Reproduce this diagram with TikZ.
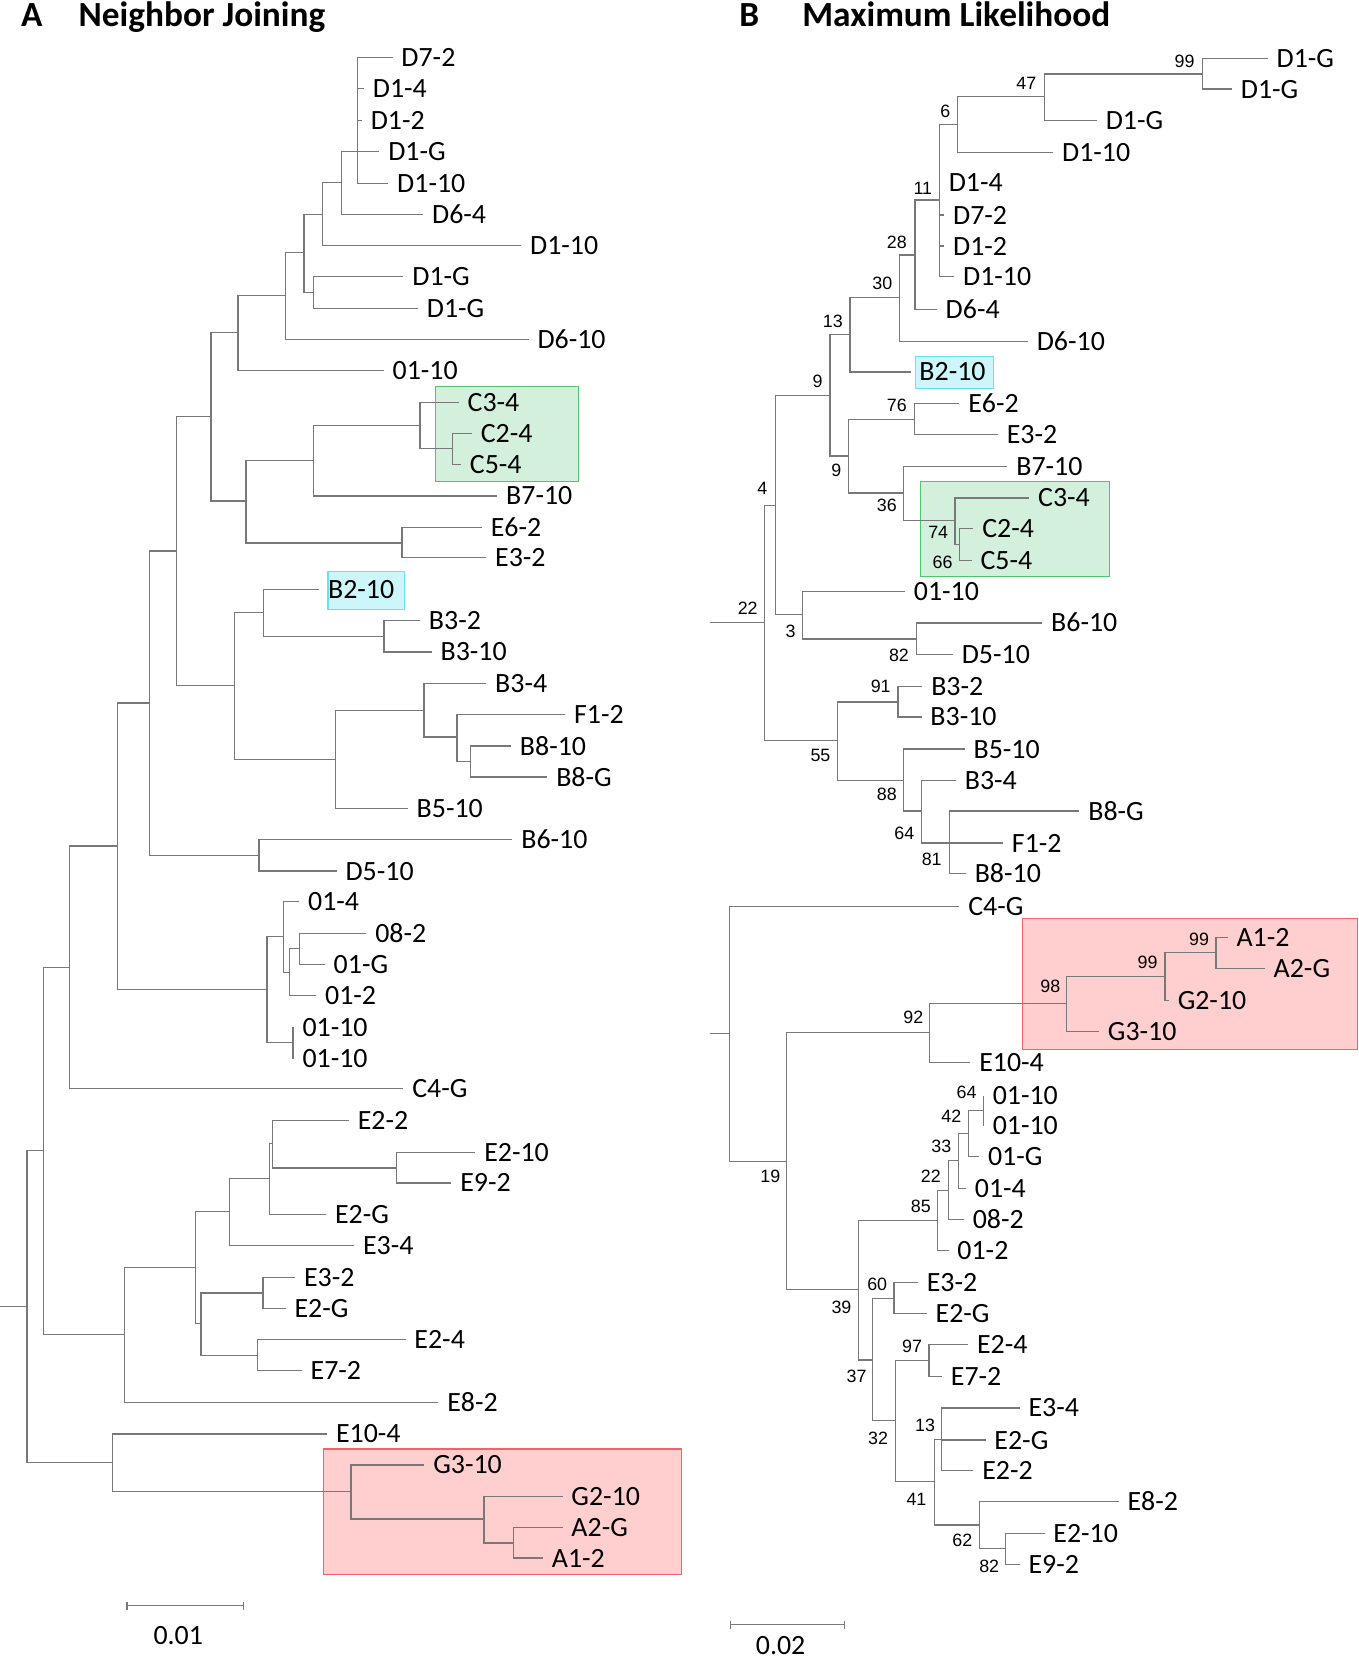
\documentclass[tikz,border=0pt]{standalone}
\usepackage{fontspec}
\setmainfont{Carlito}
\newfontfamily\bsfont{Liberation Sans}
\usetikzlibrary{arrows.meta}
\definecolor{branch}{RGB}{120,120,120}
\definecolor{boxgreen}{RGB}{211,240,221}
\definecolor{linegreen}{RGB}{80,196,110}
\definecolor{boxred}{RGB}{255,207,207}
\definecolor{linered}{RGB}{240,100,100}
\definecolor{boxcyan}{RGB}{204,246,250}
\definecolor{linecyan}{RGB}{100,228,240}
\tikzset{
  br/.style={draw=branch, line width=0.65pt},
  leaf/.style={anchor=west, inner xsep=4.6pt, inner ysep=0pt, text height=9.7pt, text depth=0pt, font=\fontsize{15pt}{15pt}\selectfont},
  bs/.style={anchor=east, inner sep=0pt, text height=6.9pt, text depth=0pt, font=\bsfont\fontsize{9.6pt}{9.6pt}\selectfont},
  ttl/.style={anchor=base west, inner sep=0pt, font=\fontsize{19pt}{19pt}\selectfont\bfseries},
  scl/.style={inner sep=0pt, text height=9.7pt, text depth=0pt, font=\fontsize{15pt}{15pt}\selectfont},
  hl/.style={line width=0.6pt},
}
\begin{document}
\begin{tikzpicture}[x=0.02cm, y=-0.02cm]
\useasboundingbox (0,0) rectangle (1284,1568);

% highlight boxes
\filldraw[fill=boxgreen, draw=linegreen, hl] (412,365.7) rectangle (547,455.2);
\filldraw[fill=boxcyan, draw=linecyan, hl] (310,540.5) rectangle (382.5,576.2);
\filldraw[fill=boxred, draw=linered, hl] (305.9,1369.5) rectangle (643.9,1488.3);
\filldraw[fill=boxcyan, draw=linecyan, hl] (865.6,337.3) rectangle (938.6,367.2);
\filldraw[fill=boxgreen, draw=linegreen, hl] (869.7,455.2) rectangle (1048.6,544.6);
\filldraw[fill=boxred, draw=linered, hl] (966.6,867.7) rectangle (1283,992.2);

\node[ttl] (tA) at (19.5,25.3) {A};
\node[ttl] (tNJ) at (74,25.3) {Neighbor Joining};
\node[ttl] (tB) at (698.5,25) {B};
\node[ttl] (tML) at (758,25) {Maximum Likelihood};

% A: neighbor joining
\coordinate (rA0) at (0,1234.6);
\coordinate (rA) at (25.6,1234.6);
\coordinate (p1) at (338,143.4);
\coordinate (p2) at (323,172.7);
\coordinate (p3) at (305,202.7);
\coordinate (p4) at (287.3,238.6);
\coordinate (p5) at (296,276.5);
\coordinate (p6) at (269.6,279);
\coordinate (p7) at (225,314.6);
\coordinate (p8) at (199.5,394);
\coordinate (p9) at (232.5,473.5);
\coordinate (p10) at (296,435.6);
\coordinate (p11) at (397,401.9);
\coordinate (p11b) at (427.5,424);
\coordinate (p12) at (380,513.2);
\coordinate (p13) at (166.5,520.7);
\coordinate (p14) at (221.8,647.7);
\coordinate (p15) at (249.4,578.7);
\coordinate (p16) at (363,601.4);
\coordinate (p17) at (317.4,717.7);
\coordinate (p18) at (400.7,671.3);
\coordinate (p19) at (432,696.6);
\coordinate (p20) at (444.4,719.6);
\coordinate (p21) at (141.4,664.4);
\coordinate (p22) at (244.8,808.5);
\coordinate (p23) at (110.9,799.6);
\coordinate (p24) at (252.3,935.2);
\coordinate (p25) at (268,884.8);
\coordinate (p26) at (273.3,918.8);
\coordinate (p26b) at (282.8,896.7);
\coordinate (p27) at (277,985);
\coordinate (p28) at (66,914.7);
\coordinate (p29) at (41.2,1087.4);
\coordinate (p30) at (117.5,1261.4);
\coordinate (p31) at (184.7,1197.7);
\coordinate (p32) at (217.2,1144.7);
\coordinate (p33) at (254.7,1114.2);
\coordinate (p34) at (257.6,1081);
\coordinate (p35) at (375.1,1104);
\coordinate (p36) at (190,1250.6);
\coordinate (p37) at (248.6,1222);
\coordinate (p38) at (243.2,1281);
\coordinate (p39) at (106.3,1382.1);
\coordinate (p40) at (331.8,1409.5);
\coordinate (p41) at (457.5,1435.7);
\coordinate (p42) at (485.6,1458.4);

\node[leaf] (lA1) at (371,54.2) {D7-2};
\node[leaf] (lA2) at (344,84) {D1-4};
\node[leaf] (lA3) at (342,114) {D1-2};
\node[leaf] (lA4) at (358.6,143.4) {D1-G};
\node[leaf] (lA5) at (367,173.4) {D1-10};
\node[leaf] (lA6) at (400,202.7) {D6-4};
\node[leaf] (lA7) at (492.6,232.3) {D1-10};
\node[leaf] (lA8) at (381.3,261.6) {D1-G};
\node[leaf] (lA9) at (395,291.6) {D1-G};
\node[leaf] (lA10) at (499.6,321) {D6-10};
\node[leaf] (lA11) at (362.7,350.2) {01-10};
\node[leaf] (lA12) at (433.6,380.5) {C3-4};
\node[leaf] (lA13) at (446,409.8) {C2-4};
\node[leaf] (lA14) at (435.7,438.8) {C5-4};
\node[leaf] (lA15) at (470,468.7) {B7-10};
\node[leaf] (lA16) at (455.5,498.7) {E6-2};
\node[leaf] (lA17) at (459.6,527) {E3-2};
\node[leaf] (lA18) at (301.7,556.9) {B2-10};
\node[leaf] (lA19) at (397,586.6) {B3-2};
\node[leaf] (lA20) at (408,616.2) {B3-10};
\node[leaf] (lA21) at (459.6,645.8) {B3-4};
\node[leaf] (lA22) at (534.2,675.1) {F1-2};
\node[leaf] (lA23) at (483,705.1) {B8-10};
\node[leaf] (lA24) at (517.3,734.4) {B8-G};
\node[leaf] (lA25) at (385.4,764) {B5-10};
\node[leaf] (lA26) at (484.3,793.6) {B6-10};
\node[leaf] (lA27) at (318.2,823.3) {D5-10};
\node[leaf] (lA28) at (282.8,852) {01-4};
\node[leaf] (lA29) at (346.3,882.6) {08-2};
\node[leaf] (lA30) at (307,911.9) {01-G};
\node[leaf] (lA31) at (298.9,941.2) {01-2};
\node[leaf] (lA32) at (277.5,970.8) {01-10};
\node[leaf] (lA33) at (277.5,1000.8) {01-10};
\node[leaf] (lA34) at (381.3,1029.1) {C4-G};
\node[leaf] (lA35) at (329.8,1059.1) {E2-2};
\node[leaf] (lA36) at (449.3,1089) {E2-10};
\node[leaf] (lA37) at (426.6,1118) {E9-2};
\node[leaf] (lA38) at (308.3,1148.2) {E2-G};
\node[leaf] (lA39) at (334.7,1177.2) {E3-4};
\node[leaf] (lA40) at (279,1207.1) {E3-2};
\node[leaf] (lA41) at (270,1237) {E2-G};
\node[leaf] (lA42) at (383.3,1266.1) {E2-4};
\node[leaf] (lA43) at (285.2,1295.4) {E7-2};
\node[leaf] (lA44) at (414.3,1325.3) {E8-2};
\node[leaf] (lA45) at (309.2,1355.3) {E10-4};
\node[leaf] (lA46) at (401.1,1384.6) {G3-10};
\node[leaf] (lA47) at (531.7,1414.3) {G2-10};
\node[leaf] (lA48) at (531.7,1443.6) {A2-G};
\node[leaf] (lA49) at (513.2,1472.6) {A1-2};

\draw[br] (rA0) -- (rA);
\draw[br] (rA) |- (p29) (rA) |- (p39);
\draw[br] (p1) |- (lA1.west) (p1) |- (lA2.west) (p1) |- (lA3.west) (p1) |- (lA4.west) (p1) |- (lA5.west);
\draw[br] (p2) |- (p1) (p2) |- (lA6.west);
\draw[br] (p3) |- (p2) (p3) |- (lA7.west);
\draw[br] (p4) |- (p3) (p4) |- (p5);
\draw[br] (p5) |- (lA8.west) (p5) |- (lA9.west);
\draw[br] (p6) |- (p4) (p6) |- (lA10.west);
\draw[br] (p7) |- (p6) (p7) |- (lA11.west);
\draw[br] (p8) |- (p7) (p8) |- (p9);
\draw[br] (p9) |- (p10) (p9) |- (p12);
\draw[br] (p10) |- (p11) (p10) |- (lA15.west);
\draw[br] (p11) |- (lA12.west) (p11) |- (p11b);
\draw[br] (p11b) |- (lA13.west) (p11b) |- (lA14.west);
\draw[br] (p12) |- (lA16.west) (p12) |- (lA17.west);
\draw[br] (p13) |- (p8) (p13) |- (p14);
\draw[br] (p14) |- (p15) (p14) |- (p17);
\draw[br] (p15) |- (lA18.west) (p15) |- (p16);
\draw[br] (p16) |- (lA19.west) (p16) |- (lA20.west);
\draw[br] (p17) |- (p18) (p17) |- (lA25.west);
\draw[br] (p18) |- (lA21.west) (p18) |- (p19);
\draw[br] (p19) |- (lA22.west) (p19) |- (p20);
\draw[br] (p20) |- (lA23.west) (p20) |- (lA24.west);
\draw[br] (p21) |- (p13) (p21) |- (p22);
\draw[br] (p22) |- (lA26.west) (p22) |- (lA27.west);
\draw[br] (p23) |- (p21) (p23) |- (p24);
\draw[br] (p24) |- (p25) (p24) |- (p27);
\draw[br] (p25) |- (lA28.west) (p25) |- (p26);
\draw[br] (p26) |- (p26b) (p26) |- (lA31.west);
\draw[br] (p26b) |- (lA29.west) (p26b) |- (lA30.west);
\draw[br] (p27) |- (lA32.west) (p27) |- (lA33.west);
\draw[br] (p28) |- (p23) (p28) |- (lA34.west);
\draw[br] (p29) |- (p28) (p29) |- (p30);
\draw[br] (p30) |- (p31) (p30) |- (lA44.west);
\draw[br] (p31) |- (p32) (p31) |- (p36);
\draw[br] (p32) |- (p33) (p32) |- (lA39.west);
\draw[br] (p33) |- (p34) (p33) |- (lA38.west);
\draw[br] (p34) |- (lA35.west) (p34) |- (p35);
\draw[br] (p35) |- (lA36.west) (p35) |- (lA37.west);
\draw[br] (p36) |- (p37) (p36) |- (p38);
\draw[br] (p37) |- (lA40.west) (p37) |- (lA41.west);
\draw[br] (p38) |- (lA42.west) (p38) |- (lA43.west);
\draw[br] (p39) |- (lA45.west) (p39) |- (p40);
\draw[br] (p40) |- (lA46.west) (p40) |- (p41);
\draw[br] (p41) |- (lA47.west) (p41) |- (p42);
\draw[br] (p42) |- (lA48.west) (p42) |- (lA49.west);

\coordinate (sA1) at (119.5,1517.7);
\coordinate (sA2) at (230.8,1517.7);
\draw[br, {Bar[width=4.3pt]}-{Bar[width=4.3pt]}] (sA1) -- (sA2);
\node[scl] (sAl) at (168.5,1546) {0.01};

% B: maximum likelihood
\coordinate (rB0) at (670.6,588.1);
\coordinate (q1) at (1136.4,70);
\coordinate (q2) at (987.2,91.4);
\coordinate (q3) at (904.8,117.6);
\coordinate (q4) at (888.3,189.1);
\coordinate (q5) at (864.8,241.1);
\coordinate (q6) at (849.9,281.2);
\coordinate (q7) at (803.3,316.2);
\coordinate (q8) at (784.4,373.5);
\coordinate (q9) at (802.1,430.9);
\coordinate (q10) at (864,396.2);
\coordinate (q11) at (853.6,465.9);
\coordinate (q12) at (902.7,491.7);
\coordinate (q13) at (906.8,514.4);
\coordinate (q14) at (732.9,477.6);
\coordinate (q15) at (758.4,580.6);
\coordinate (q16) at (866,603.9);
\coordinate (q17) at (722.6,588.1);
\coordinate (q18) at (791.4,699.7);
\coordinate (q19) at (848.7,663.5);
\coordinate (q20) at (854,737.5);
\coordinate (q21) at (871,766.5);
\coordinate (q22) at (897.7,796.8);
\coordinate (rC0) at (670.6,976.5);
\coordinate (r1) at (689.6,976.5);
\coordinate (r2) at (743.6,1097.5);
\coordinate (r3) at (878.8,975.5);
\coordinate (r4) at (1008.2,948.1);
\coordinate (r5) at (1101,922.6);
\coordinate (r6) at (1149.2,900.5);
\coordinate (r8) at (811.2,1218.8);
\coordinate (s85) at (886.2,1153.5);
\coordinate (s22) at (896.5,1125);
\coordinate (s33) at (905.6,1097);
\coordinate (s42) at (915,1071.3);
\coordinate (s64) at (929.9,1049.6);
\coordinate (t37) at (824.8,1285.3);
\coordinate (t60) at (845,1227);
\coordinate (t32) at (846.2,1342.7);
\coordinate (t97) at (878,1286);
\coordinate (t41) at (882.9,1400.4);
\coordinate (t13) at (889.5,1360.5);
\coordinate (t62) at (925.4,1441.4);
\coordinate (t82) at (950.1,1463.4);

\node[leaf] (lB1) at (1198.2,55.2) {D1-G};
\node[leaf] (lB2) at (1164.4,84.2) {D1-G};
\node[leaf] (lB3) at (1036.7,114.1) {D1-G};
\node[leaf] (lB4) at (995.4,144) {D1-10};
\node[leaf] (lB5) at (888.3,172.4) {D1-4};
\node[leaf] (lB6) at (892.4,203.3) {D7-2};
\node[leaf] (lB7) at (892.4,232.6) {D1-2};
\node[leaf] (lB8) at (901.9,261.6) {D1-10};
\node[leaf] (lB9) at (885.4,292.5) {D6-4};
\node[leaf] (lB10) at (971.5,322.5) {D6-10};
\node[leaf] (lB11) at (860.6,351.5) {B2-10};
\node[leaf] (lB12) at (906.8,381.4) {E6-2};
\node[leaf] (lB13) at (943.1,411) {E3-2};
\node[leaf] (lB14) at (952.2,440.7) {B7-10};
\node[leaf] (lB15) at (972.8,470.6) {C3-4};
\node[leaf] (lB16) at (920,499.6) {C2-4};
\node[leaf] (lB17) at (918.3,529.6) {C5-4};
\node[leaf] (lB18) at (855.3,559.4) {01-10};
\node[leaf] (lB19) at (985.1,588.8) {B6-10};
\node[leaf] (lB20) at (900.6,618.4) {D5-10};
\node[leaf] (lB21) at (871.8,648.6) {B3-2};
\node[leaf] (lB22) at (871,677.6) {B3-10};
\node[leaf] (lB23) at (911.8,707.9) {B5-10};
\node[leaf] (lB24) at (903.5,737.5) {B3-4};
\node[leaf] (lB25) at (1020.2,766.5) {B8-G};
\node[leaf] (lB26) at (948,796.8) {F1-2};
\node[leaf] (lB27) at (912.9,825.8) {B8-10};
\node[leaf] (lB28) at (906.8,856.4) {C4-G};
\node[leaf] (lB29) at (1160.3,885.7) {A1-2};
\node[leaf] (lB30) at (1195.4,915.3) {A2-G};
\node[leaf] (lB31) at (1104.7,945.6) {G2-10};
\node[leaf] (lB32) at (1038.7,974.6) {G3-10};
\node[leaf] (lB33) at (917.1,1003.9) {E10-4};
\node[leaf] (lB34) at (929.9,1035.4) {01-10};
\node[leaf] (lB35) at (929.9,1063.8) {01-10};
\node[leaf] (lB36) at (925.4,1093) {01-G};
\node[leaf] (lB37) at (913,1123.6) {01-4};
\node[leaf] (lB38) at (911,1152.6) {08-2};
\node[leaf] (lB39) at (896.5,1182) {01-2};
\node[leaf] (lB40) at (867.6,1212.5) {E3-2};
\node[leaf] (lB41) at (875.9,1241.2) {E2-G};
\node[leaf] (lB42) at (915,1271.1) {E2-4};
\node[leaf] (lB43) at (890.3,1301.1) {E7-2};
\node[leaf] (lB44) at (963.7,1330.7) {E3-4};
\node[leaf] (lB45) at (931.5,1361) {E2-G};
\node[leaf] (lB46) at (920,1390) {E2-2};
\node[leaf] (lB47) at (1057.3,1419.3) {E8-2};
\node[leaf] (lB48) at (987.2,1449.3) {E2-10};
\node[leaf] (lB49) at (963.7,1478.3) {E9-2};

\draw[br] (rB0) -- (q17);
\draw[br] (q1) |- (lB1.west) (q1) |- (lB2.west);
\draw[br] (q2) |- (q1) (q2) |- (lB3.west);
\draw[br] (q3) |- (q2) (q3) |- (lB4.west);
\draw[br] (q4) |- (q3) (q4) |- (lB5.west) (q4) |- (lB6.west) (q4) |- (lB7.west) (q4) |- (lB8.west);
\draw[br] (q5) |- (q4) (q5) |- (lB9.west);
\draw[br] (q6) |- (q5) (q6) |- (lB10.west);
\draw[br] (q7) |- (q6) (q7) |- (lB11.west);
\draw[br] (q8) |- (q7) (q8) |- (q9);
\draw[br] (q9) |- (q10) (q9) |- (q11);
\draw[br] (q10) |- (lB12.west) (q10) |- (lB13.west);
\draw[br] (q11) |- (lB14.west) (q11) |- (q12);
\draw[br] (q12) |- (lB15.west) (q12) |- (q13);
\draw[br] (q13) |- (lB16.west) (q13) |- (lB17.west);
\draw[br] (q14) |- (q8) (q14) |- (q15);
\draw[br] (q15) |- (lB18.west) (q15) |- (q16);
\draw[br] (q16) |- (lB19.west) (q16) |- (lB20.west);
\draw[br] (q17) |- (q14) (q17) |- (q18);
\draw[br] (q18) |- (q19) (q18) |- (q20);
\draw[br] (q19) |- (lB21.west) (q19) |- (lB22.west);
\draw[br] (q20) |- (lB23.west) (q20) |- (q21);
\draw[br] (q21) |- (lB24.west) (q21) |- (q22);
\draw[br] (q22) |- (lB25.west) (q22) |- (lB26.west) (q22) |- (lB27.west);

\draw[br] (rC0) -- (r1);
\draw[br] (r1) |- (lB28.west) (r1) |- (r2);
\draw[br] (r2) |- (r3) (r2) |- (r8);
\draw[br] (r3) |- (r4) (r3) |- (lB33.west);
\draw[br] (r4) |- (r5) (r4) |- (lB32.west);
\draw[br] (r5) |- (r6) (r5) |- (lB31.west);
\draw[br] (r6) |- (lB29.west) (r6) |- (lB30.west);
\draw[br] (r8) |- (s85) (r8) |- (t37);
\draw[br] (s85) |- (s22) (s85) |- (lB39.west);
\draw[br] (s22) |- (s33) (s22) |- (lB38.west);
\draw[br] (s33) |- (s42) (s33) |- (lB37.west);
\draw[br] (s42) |- (s64) (s42) |- (lB36.west);
\draw[br] (s64) |- (lB34.west) (s64) |- (lB35.west);
\draw[br] (t37) |- (t60) (t37) |- (t32);
\draw[br] (t60) |- (lB40.west) (t60) |- (lB41.west);
\draw[br] (t32) |- (t97) (t32) |- (t41);
\draw[br] (t97) |- (lB42.west) (t97) |- (lB43.west);
\draw[br] (t41) |- (t13) (t41) |- (t62);
\draw[br] (t13) |- (lB44.west) (t13) |- (lB45.west) (t13) |- (lB46.west);
\draw[br] (t62) |- (lB47.west) (t62) |- (t82);
\draw[br] (t82) |- (lB48.west) (t82) |- (lB49.west);

% bootstrap values
\node[bs] (b1) at (1129.4,57.7) {99};
\node[bs] (b2) at (979.8,78.8) {47};
\node[bs] (b3) at (898.6,104.8) {6};
\node[bs] (b4) at (881.3,177.5) {11};
\node[bs] (b5) at (857.3,228.4) {28};
\node[bs] (b6) at (843.7,267.5) {30};
\node[bs] (b7) at (796.8,303.6) {13};
\node[bs] (b8) at (777.8,359.9) {9};
\node[bs] (b9) at (795.5,443.9) {9};
\node[bs] (b10) at (857.3,382.5) {76};
\node[bs] (b11) at (847.9,477.1) {36};
\node[bs] (b12) at (896.5,502.6) {74};
\node[bs] (b13) at (900.6,531.3) {66};
\node[bs] (b14) at (725.5,461.2) {4};
\node[bs] (b15) at (752.2,596) {3};
\node[bs] (b16) at (859.4,619) {82};
\node[bs] (b17) at (716.4,575.1) {22};
\node[bs] (b18) at (785.2,713.9) {55};
\node[bs] (b19) at (842.1,648.5) {91};
\node[bs] (b20) at (847.9,750.1) {88};
\node[bs] (b21) at (864.4,787.8) {64};
\node[bs] (b22) at (890.3,812.3) {81};
\node[bs] (b23) at (737.8,1111.8) {19};
\node[bs] (b24) at (873,961.7) {92};
\node[bs] (b25) at (1002.4,931.7) {98};
\node[bs] (b26) at (1094.4,909) {99};
\node[bs] (b27) at (1143,887.2) {99};
\node[bs] (b28) at (923.3,1032.6) {64};
\node[bs] (b29) at (908.9,1054.8) {42};
\node[bs] (b30) at (899.4,1083.3) {33};
\node[bs] (b31) at (889.5,1111.9) {22};
\node[bs] (b32) at (880,1139.9) {85};
\node[bs] (b33) at (805,1235) {39};
\node[bs] (b34) at (819.4,1300.5) {37};
\node[bs] (b35) at (838.8,1213.8) {60};
\node[bs] (b36) at (839.6,1359.6) {32};
\node[bs] (b37) at (871.8,1272.6) {97};
\node[bs] (b38) at (875.9,1417) {41};
\node[bs] (b39) at (884.1,1347) {13};
\node[bs] (b40) at (919.2,1456) {62};
\node[bs] (b41) at (944.7,1480) {82};

\coordinate (sB1) at (689.6,1535.6);
\coordinate (sB2) at (798.4,1535.6);
\draw[br, {Bar[width=4.3pt]}-{Bar[width=4.3pt]}] (sB1) -- (sB2);
\node[scl] (sBl) at (737.8,1555) {0.02};
\end{tikzpicture}
\end{document}
